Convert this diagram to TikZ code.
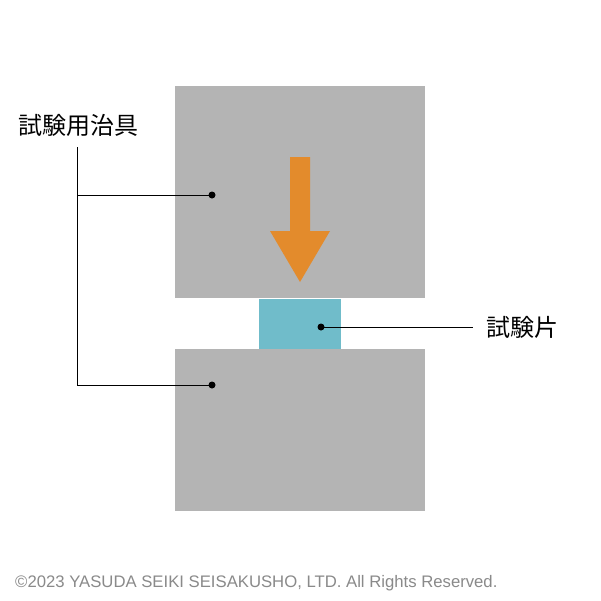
\documentclass[tikz,border=0pt]{standalone}
\usepackage{fontspec}
\setmainfont{Liberation Sans}
\newfontfamily\jpfont{Noto Sans CJK JP}
\definecolor{blockgray}{HTML}{B4B4B4}
\definecolor{arroworange}{HTML}{E38B2C}
\definecolor{specteal}{HTML}{70BCCA}
\definecolor{copygray}{HTML}{8A8A8A}
\begin{document}
\begin{tikzpicture}[x=1pt,y=-1pt,
  block/.style={fill=blockgray,draw=none},
  leader/.style={draw=black,line width=0.8pt},
  dotmark/.style={circle,fill=black,inner sep=0pt,minimum size=7pt},
  jplabel/.style={font=\jpfont\fontsize{24}{28}\selectfont,inner sep=0pt}]
\useasboundingbox (0,0) rectangle (601,600);
\fill[white] (0,0) rectangle (601,600);
% blocks
\node[block,minimum width=250pt,minimum height=212pt,inner sep=0pt,anchor=north west] (top) at (175,86) {};
\node[block,minimum width=250pt,minimum height=162pt,inner sep=0pt,anchor=north west] (bottom) at (175,349) {};
\node[fill=specteal,minimum width=82pt,minimum height=50pt,inner sep=0pt,anchor=north west] (spec) at (259,299) {};
% arrow
\fill[arroworange] (290,157) -- (310,157) -- (310,231) -- (330,231) -- (300,282) -- (270,231) -- (290,231) -- cycle;
% labels
\node[jplabel] (jig) at (78,125) {試験用治具};
\node[jplabel,anchor=west] (tp) at (486,327) {試験片};
% dots
\node[dotmark] (d1) at (212,195) {};
\node[dotmark] (d2) at (212,385) {};
\node[dotmark] (d3) at (321,327) {};
\coordinate (vtop) at (77,147);
\coordinate (vbot) at (77,385);
\coordinate (vmid) at (77,195);
\coordinate (tpend) at (473,327);
\draw[leader] (vtop) -- (vbot) -- (d2.center);
\draw[leader] (vmid) -- (d1.center);
\draw[leader] (d3.center) -- (tpend);
% copyright
\node[anchor=west,text=copygray,inner sep=0pt,font=\fontsize{16.7}{19}\selectfont] (copy) at (15,583) {©2023 YASUDA SEIKI SEISAKUSHO, LTD. All Rights Reserved.};
\end{tikzpicture}
\end{document}
